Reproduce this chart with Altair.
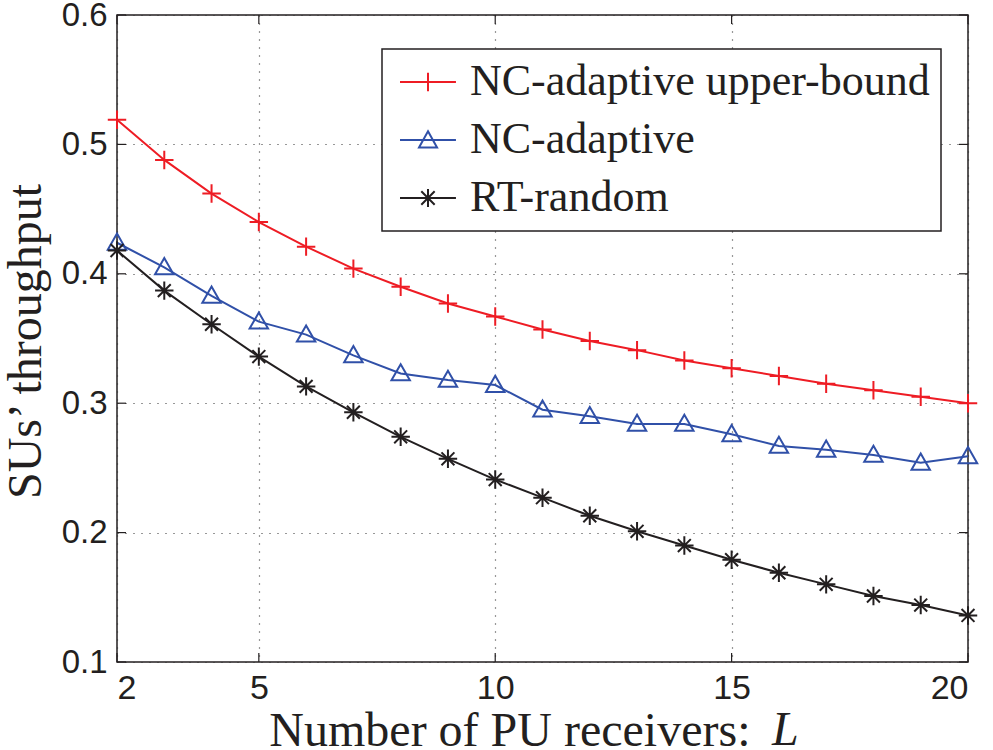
import altair as alt
import pandas as pd

# Number of PU receivers
L_VALUES = list(range(2, 21))

# SUs' throughput for each scheme
UPPER_BOUND = [0.519, 0.488, 0.462, 0.440, 0.421, 0.404, 0.390, 0.377, 0.367, 0.357,
               0.348, 0.341, 0.333, 0.327, 0.321, 0.315, 0.310, 0.305, 0.300]
NC_ADAPTIVE = [0.424, 0.405, 0.383, 0.363, 0.353, 0.337, 0.323, 0.318, 0.314, 0.295,
               0.290, 0.284, 0.284, 0.276, 0.267, 0.264, 0.260, 0.254, 0.259]
RT_RANDOM = [0.418, 0.387, 0.361, 0.336, 0.313, 0.293, 0.274, 0.257, 0.241, 0.227,
             0.213, 0.201, 0.190, 0.179, 0.169, 0.160, 0.151, 0.144, 0.136]

SERIES = ["NC-adaptive upper-bound", "NC-adaptive", "RT-random"]
COLORS = ["#ee1c24", "#3050a8", "#231f20"]

X_TICKS = [2, 5, 10, 15, 20]
Y_TICKS = [0.1, 0.2, 0.3, 0.4, 0.5, 0.6]

# marker glyphs (unit square paths): plus, triangle, asterisk
MARKERS = [
    "M-1,0L1,0M0,-1L0,1",
    "M0,-1L1,0.75L-1,0.75Z",
    "M-1,0L1,0M0,-1L0,1M-0.7,-0.7L0.7,0.7M-0.7,0.7L0.7,-0.7",
]
# legend glyphs: short line segment with the marker on it
LEGEND_GLYPHS = [
    "M-1,0L2.73,0M0.867,-0.62L0.867,0.62",
    "M-1,0L2.73,0M0.867,-0.58L1.47,0.5L0.267,0.5Z",
    "M-1,0L2.73,0M0.867,-0.6L0.867,0.6M0.42,-0.45L1.31,0.45M0.42,0.45L1.31,-0.45",
]

W, H = 851, 647
SERIF = "Liberation Serif, serif"
SANS = "Liberation Sans"
INK = "#231f20"

rows = []
for name, vals in zip(SERIES, [UPPER_BOUND, NC_ADAPTIVE, RT_RANDOM]):
    for l, v in zip(L_VALUES, vals):
        rows.append({"L": l, "throughput": v, "scheme": name})
df = pd.DataFrame(rows)

x_scale = alt.Scale(domain=[2, 20], nice=False, zero=False)
y_scale = alt.Scale(domain=[0.1, 0.6], nice=False, zero=False)
color_scale = alt.Scale(domain=SERIES, range=COLORS)

x_enc = alt.X(
    "L:Q", scale=x_scale,
    axis=alt.Axis(
        values=X_TICKS, format="d", title="Number of PU receivers:",
        grid=True, gridDash=[1, 7], gridColor="#333", gridWidth=1.2,
        domain=False, ticks=False, labelPadding=9,
        labelFont=SANS, labelFontSize=34, labelColor=INK,
        titleFont=SERIF, titleFontSize=48, titleFontWeight="normal", titleColor=INK,
        titleX=633, titleY=83, titleBaseline="alphabetic", titleAlign="right",
    ),
)
y_enc = alt.Y(
    "throughput:Q", scale=y_scale,
    axis=alt.Axis(
        values=Y_TICKS, format=".1f", title="SUs’ throughput",
        grid=True, gridDash=[1, 7], gridColor="#333", gridWidth=1.2,
        domain=False, ticks=False, labelPadding=10,
        labelFont=SANS, labelFontSize=33, labelColor=INK,
        titleFont=SERIF, titleFontSize=48, titleFontWeight="normal", titleColor=INK,
        titleX=-77, titleY=326, titleBaseline="alphabetic", titleAlign="center",
        titleAngle=-90,
    ),
)

lines = alt.Chart(df).mark_line(strokeWidth=2).encode(
    x=x_enc, y=y_enc,
    color=alt.Color("scheme:N", scale=color_scale, legend=None),
    detail="scheme:N",
)

points = alt.Chart(df).mark_point(filled=False, size=340, strokeWidth=2, opacity=1).encode(
    x="L:Q", y="throughput:Q",
    color=alt.Color("scheme:N", scale=color_scale, legend=None),
    shape=alt.Shape("scheme:N", scale=alt.Scale(domain=SERIES, range=MARKERS), legend=None),
)

legend_cfg = alt.Legend(
    title=None, orient="none", legendX=265, legendY=34,
    fillColor="white", strokeColor=INK,
    padding=11, rowPadding=14, labelOffset=33,
    symbolSize=900, symbolStrokeWidth=2, symbolOpacity=1, symbolFillColor="transparent",
    labelFont=SERIF, labelFontSize=44, labelColor=INK, labelLimit=0,
)
legend_layer = alt.Chart(df).mark_point(filled=False, opacity=0).encode(
    x="L:Q", y="throughput:Q",
    color=alt.Color("scheme:N", scale=color_scale, legend=legend_cfg),
    shape=alt.Shape("scheme:N", scale=alt.Scale(domain=SERIES, range=LEGEND_GLYPHS), legend=legend_cfg),
)

# italic variable name closing the x-axis title
var_label = alt.Chart(pd.DataFrame({"t": ["L"]})).mark_text(
    font=SERIF, fontSize=48, fontStyle="italic", color=INK,
    align="left", baseline="alphabetic", clip=False,
).encode(text="t:N", x=alt.value(655), y=alt.value(H + 83))

# inward tick marks on all four sides of the frame
xt = pd.DataFrame({"L": X_TICKS})
yt = pd.DataFrame({"throughput": Y_TICKS})
tick_len = 9
bottom_ticks = alt.Chart(xt).mark_rule(color=INK, strokeWidth=1.2).encode(
    x=alt.X("L:Q", scale=x_scale), y=alt.value(H), y2=alt.value(H - tick_len))
top_ticks = alt.Chart(xt).mark_rule(color=INK, strokeWidth=1.2).encode(
    x=alt.X("L:Q", scale=x_scale), y=alt.value(0), y2=alt.value(tick_len))
left_ticks = alt.Chart(yt).mark_rule(color=INK, strokeWidth=1.2).encode(
    y=alt.Y("throughput:Q", scale=y_scale), x=alt.value(0), x2=alt.value(tick_len))
right_ticks = alt.Chart(yt).mark_rule(color=INK, strokeWidth=1.2).encode(
    y=alt.Y("throughput:Q", scale=y_scale), x=alt.value(W), x2=alt.value(W - tick_len))

chart = alt.layer(
    bottom_ticks, top_ticks, left_ticks, right_ticks, lines, points, legend_layer, var_label
).resolve_scale(
    color="independent", shape="independent"
).properties(
    width=W, height=H,
    background="white",
    autosize=alt.AutoSizeParams(type="none"),
    padding={"left": 117, "top": 15, "right": 25, "bottom": 88},
).configure_view(
    stroke=INK, strokeWidth=1.5
).configure_legend(
    strokeWidth=1.5
)

chart.save("out.html", embed_options={"renderer": "svg", "actions": False})
